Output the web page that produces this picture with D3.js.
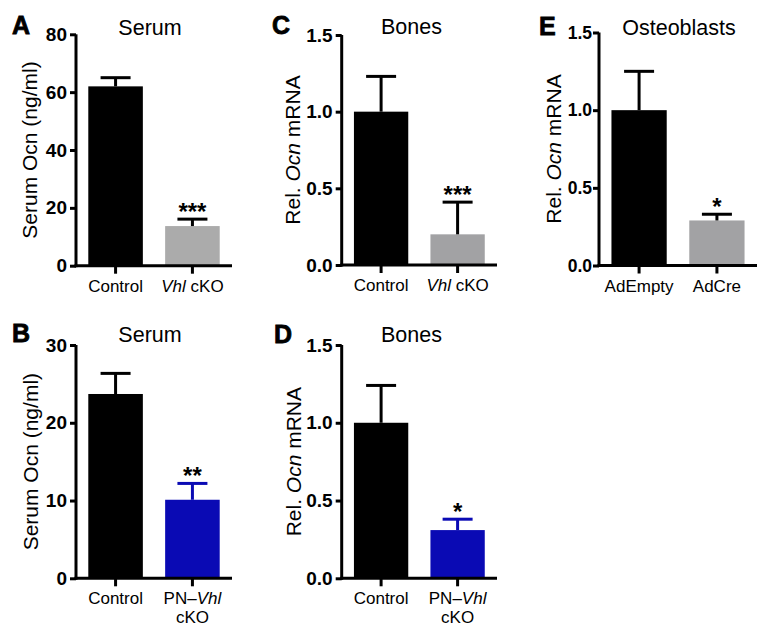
<!DOCTYPE html>
<html>
<head>
<meta charset="utf-8">
<script src="https://cdn.jsdelivr.net/npm/d3@7/dist/d3.min.js"></script>
<style>
  html, body { margin: 0; padding: 0; background: #fff; }
  svg { display: block; font-family: "Liberation Sans", Arial, Helvetica, sans-serif; }
</style>
</head>
<body>
<svg id="chart" width="776" height="643"></svg>
<script>
// ---------- DATA ----------
const catsA = ["Control", "Vhl cKO"];
const meanA = [62.0, 13.7];
const errA  = [3.0, 2.4];
const sigA  = ["", "***"];
const ticksA = [0, 20, 40, 60, 80];

const catsB = ["Control", "PN–Vhl cKO"];
const meanB = [23.7, 10.1];
const errB  = [2.65, 2.1];
const sigB  = ["", "**"];
const ticksB = [0, 10, 20, 30];

const catsC = ["Control", "Vhl cKO"];
const meanC = [1.0, 0.20];
const errC  = [0.23, 0.21];
const sigC  = ["", "***"];
const ticksC = [0, 0.5, 1.0, 1.5];

const catsD = ["Control", "PN–Vhl cKO"];
const meanD = [1.0, 0.31];
const errD  = [0.24, 0.07];
const sigD  = ["", "*"];
const ticksD = [0, 0.5, 1.0, 1.5];

const catsE = ["AdEmpty", "AdCre"];
const meanE = [1.0, 0.29];
const errE  = [0.25, 0.04];
const sigE  = ["", "*"];
const ticksE = [0, 0.5, 1.0, 1.5];

const titles = { A: "Serum", B: "Serum", C: "Bones", D: "Bones", E: "Osteoblasts" };

// ---------- STYLE / LAYOUT ----------
const BLACK = "#000000", GRAY_A = "#ababab", GRAY_C = "#a2a2a4", BLUE = "#0a0ab4";

const panels = [
  { id: "A", cats: catsA, mean: meanA, err: errA, sig: sigA, ticks: ticksA, fmt: d3.format("d"),
    yLabel: [["Serum Ocn (ng/ml)", false]], fills: [BLACK, GRAY_A], errColors: [BLACK, BLACK],
    axisX: 76, xEnd: 232, y0: 265.7, yTop: 34.3, titleX: 150, titleY: 35, labelX: 37, letterX: 12, letterY: 34,
    tickFont: 19, tickPad: 3 },
  { id: "B", cats: catsB, mean: meanB, err: errB, sig: sigB, ticks: ticksB, fmt: d3.format("d"),
    yLabel: [["Serum Ocn (ng/ml)", false]], fills: [BLACK, BLUE], errColors: [BLACK, BLUE],
    axisX: 76, xEnd: 232, y0: 578.3, yTop: 345, titleX: 150, titleY: 342, labelX: 38, letterX: 12, letterY: 342,
    tickFont: 19, tickPad: 3 },
  { id: "C", cats: catsC, mean: meanC, err: errC, sig: sigC, ticks: ticksC, fmt: d3.format(".1f"),
    yLabel: [["Rel. ", false], ["Ocn", true], [" mRNA", false]], fills: [BLACK, GRAY_C], errColors: [BLACK, BLACK],
    axisX: 341.7, xEnd: 497, y0: 265, yTop: 35, titleX: 411.5, titleY: 34, labelX: 300, letterX: 272, letterY: 34,
    tickFont: 19, tickPad: 3 },
  { id: "D", cats: catsD, mean: meanD, err: errD, sig: sigD, ticks: ticksD, fmt: d3.format(".1f"),
    yLabel: [["Rel. ", false], ["Ocn", true], [" mRNA", false]], fills: [BLACK, BLUE], errColors: [BLACK, BLUE],
    axisX: 341.7, xEnd: 497, y0: 578.3, yTop: 345, titleX: 411.5, titleY: 342, labelX: 300.5, letterX: 274, letterY: 343,
    tickFont: 19, tickPad: 3 },
  { id: "E", cats: catsE, mean: meanE, err: errE, sig: sigE, ticks: ticksE, fmt: d3.format(".1f"),
    yLabel: [["Rel. ", false], ["Ocn", true], [" mRNA", false]], fills: [BLACK, GRAY_C], errColors: [BLACK, BLACK],
    axisX: 599, xEnd: 757, y0: 265.5, yTop: 32.5, titleX: 679, titleY: 35, labelX: 560.5, letterX: 539, letterY: 35,
    tickFont: 17.5, tickPad: 1 }
];

const svg = d3.select("#chart");

// write category label with italic "Vhl" and possible line break
function writeCatLabel(textSel, label) {
  textSel.selectAll("*").remove();
  textSel.text(null);
  let lines;
  if (label === "PN–Vhl cKO") lines = [[["PN–", false], ["Vhl", true]], [["cKO", false]]];
  else if (label === "Vhl cKO") lines = [[["Vhl", true], [" cKO", false]]];
  else lines = [[[label, false]]];
  lines.forEach((parts, li) => {
    parts.forEach((p, pi) => {
      const ts = textSel.append("tspan").text(p[0]).attr("font-style", p[1] ? "italic" : "normal");
      if (pi === 0) ts.attr("x", 0).attr("dy", li === 0 ? 0 : 19);
    });
  });
}

panels.forEach(p => {
  const g = svg.append("g");
  const x = d3.scaleBand().domain(p.cats).range([p.axisX, p.xEnd]).paddingInner(0.29).paddingOuter(0.16);
  const y = d3.scaleLinear().domain([0, d3.max(p.ticks)]).range([p.y0, p.yTop]);

  // bars
  g.selectAll("rect.bar").data(p.cats).join("rect")
    .attr("class", "bar")
    .attr("x", d => x(d))
    .attr("width", x.bandwidth())
    .attr("y", (d, i) => y(p.mean[i]))
    .attr("height", (d, i) => p.y0 - y(p.mean[i]))
    .attr("fill", (d, i) => p.fills[i]);

  // error bars (upper only)
  const eb = g.selectAll("g.err").data(p.cats).join("g").attr("class", "err");
  eb.append("line")
    .attr("x1", d => x(d) + x.bandwidth() / 2)
    .attr("x2", d => x(d) + x.bandwidth() / 2)
    .attr("y1", (d, i) => y(p.mean[i]))
    .attr("y2", (d, i) => y(p.mean[i] + p.err[i]))
    .attr("stroke", (d, i) => p.errColors[i]).attr("stroke-width", 3);
  eb.append("line")
    .attr("x1", d => x(d) + x.bandwidth() / 2 - 15)
    .attr("x2", d => x(d) + x.bandwidth() / 2 + 15)
    .attr("y1", (d, i) => y(p.mean[i] + p.err[i]))
    .attr("y2", (d, i) => y(p.mean[i] + p.err[i]))
    .attr("stroke", (d, i) => p.errColors[i]).attr("stroke-width", 3);

  // significance stars
  g.selectAll("text.sig").data(p.cats).join("text")
    .attr("class", "sig")
    .attr("x", d => x(d) + x.bandwidth() / 2)
    .attr("y", (d, i) => y(p.mean[i] + p.err[i]) + 1)
    .attr("text-anchor", "middle")
    .attr("font-size", 24).attr("font-weight", "bold")
    .text((d, i) => p.sig[i]);

  // y axis
  const yAxis = d3.axisLeft(y).tickValues(p.ticks).tickFormat(p.fmt).tickSize(6).tickSizeOuter(0).tickPadding(p.tickPad);
  const ya = g.append("g").attr("transform", `translate(${p.axisX},0)`).call(yAxis);
  ya.select(".domain").attr("stroke", "#000").attr("stroke-width", 3).attr("d", `M0,${p.y0 + 1.5}V${p.yTop}`);
  ya.selectAll(".tick line").attr("stroke", "#000").attr("stroke-width", 3);
  ya.selectAll(".tick text").attr("font-size", p.tickFont).attr("font-weight", "bold").attr("fill", "#000")
    .attr("font-family", "'Liberation Sans', Arial, sans-serif");

  // x axis
  const xAxis = d3.axisBottom(x).tickSize(8).tickSizeOuter(0).tickPadding(0);
  const xa = g.append("g").attr("transform", `translate(0,${p.y0})`).call(xAxis);
  xa.select(".domain").attr("stroke", "#000").attr("stroke-width", 3).attr("d", `M${p.axisX - 1.5},0H${p.xEnd}`);
  xa.selectAll(".tick line").attr("stroke", "#000").attr("stroke-width", 3);
  xa.selectAll(".tick text")
    .attr("font-size", 17).attr("fill", "#000").attr("dy", null).attr("y", 26)
    .attr("font-family", "'Liberation Sans', Arial, sans-serif")
    .each(function(d) { writeCatLabel(d3.select(this), d); });

  // y label
  const yl = g.append("text")
    .attr("transform", `translate(${p.labelX},${(p.y0 + p.yTop) / 2}) rotate(-90)`)
    .attr("text-anchor", "middle").attr("font-size", 21).attr("fill", "#000");
  p.yLabel.forEach(part => yl.append("tspan").text(part[0]).attr("font-style", part[1] ? "italic" : "normal"));

  // title
  g.append("text").attr("x", p.titleX).attr("y", p.titleY).attr("text-anchor", "middle")
    .attr("font-size", 21.5).attr("fill", "#000").text(titles[p.id]);

  // panel letter
  g.append("text").attr("x", p.letterX).attr("y", p.letterY)
    .attr("font-size", 25).attr("font-weight", "bold").attr("fill", "#000")
    .attr("stroke", "#000").attr("stroke-width", 0.8)
    .text(p.id);
});
</script>
</body>
</html>
